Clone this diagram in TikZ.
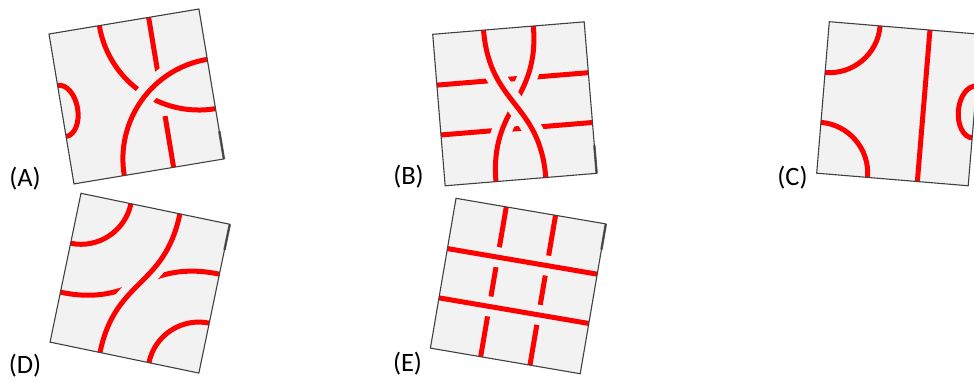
\documentclass[tikz,border=0pt]{standalone}
\usepackage{fontspec}
\setmainfont{Carlito}
\definecolor{tilegray}{RGB}{242,242,242}
\definecolor{edgegray}{RGB}{64,64,64}
\definecolor{knotred}{RGB}{255,0,0}
\begin{document}
\begin{tikzpicture}[x=1pt,y=1pt,
  tilefill/.style={fill=tilegray},
  tileedge/.style={draw=edgegray,line width=1.1pt},
  tileshade/.style={draw=edgegray!85,line width=2.4pt},
  strand/.style={draw=knotred,line width=5pt},
  over/.style={strand,preaction={draw=tilegray,line width=20pt}},
  lbl/.style={font=\fontsize{26.5}{32}\selectfont,inner sep=0pt,anchor=center}]
\useasboundingbox (0,0) rectangle (974,-381);

% ---------- Tile A ----------
\begin{scope}[shift={(49,-34)},rotate=9.46]
  \path[tilefill] (0,0) rectangle (152,-152);
  \begin{scope}
    \clip (0,0) rectangle (152,-152);
    \draw[strand] (0,-52) arc[start angle=90,end angle=-90,x radius=16,y radius=26];
    \draw[strand] (101,2) -- (101,-55);
    \draw[strand] (101,-100) -- (101,-154);
    \draw[over] (51,0) arc[start angle=180,end angle=270,radius=101];
    \draw[over] (51,-152) arc[start angle=180,end angle=90,radius=101];
  \end{scope}
  \draw[tileshade] (152,-124) -- (152,-152);
  \draw[tileedge] (0,0) rectangle (152,-152);
\end{scope}

% ---------- Tile B ----------
\begin{scope}[shift={(432.7,-34.3)},rotate=4.7]
  \path[tilefill] (0,0) rectangle (152,-152);
  \begin{scope}
    \clip (0,0) rectangle (152,-152);
    \draw[strand] (-2,-51) -- (154,-51);
    \draw[strand] (-2,-101) -- (154,-101);
    \draw[over] (101,2) -- (101,0) .. controls (101,-76) and (51,-76) .. (51,-152) -- (51,-154);
    \draw[over] (51,2) -- (51,0) .. controls (51,-76) and (101,-76) .. (101,-152) -- (101,-154);
  \end{scope}
  \draw[tileshade] (152,-124) -- (152,-152);
  \draw[tileedge] (0,0) rectangle (152,-152);
\end{scope}

% ---------- Tile C ----------
\begin{scope}[shift={(829.3,-21.7)},rotate=-4.75]
  \path[tilefill] (0,0) rectangle (152,-152);
  \begin{scope}
    \clip (0,0) rectangle (152,-152);
    \draw[strand] (51,0) arc[start angle=0,end angle=-90,radius=51];
    \draw[strand] (0,-101) arc[start angle=90,end angle=0,radius=51];
    \draw[strand] (101,2) -- (101,-154);
    \draw[strand] (152,-52) arc[start angle=90,end angle=270,x radius=16,y radius=26];
  \end{scope}
  \draw[tileedge] (0,0) rectangle (152,-152);
\end{scope}

% ---------- Tile D ----------
\begin{scope}[shift={(81,-193.3)},rotate=-11.75]
  \path[tilefill] (0,0) rectangle (152,-152);
  \begin{scope}
    \clip (0,0) rectangle (152,-152);
    \draw[strand] (51,0) arc[start angle=0,end angle=-90,radius=51];
    \draw[strand] (101,-152) arc[start angle=180,end angle=90,radius=51];
    \draw[strand] (-2,-101) -- (0,-101) .. controls (76,-101) and (76,-51) .. (152,-51) -- (154,-51);
    \draw[over] (101,2) -- (101,0) .. controls (101,-76) and (51,-76) .. (51,-152) -- (51,-154);
  \end{scope}
  \draw[tileshade] (152,0) -- (152,-26);
  \draw[tileedge] (0,0) rectangle (152,-152);
\end{scope}

% ---------- Tile E ----------
\begin{scope}[shift={(456,-198.3)},rotate=-9.7]
  \path[tilefill] (0,0) rectangle (152,-152);
  \begin{scope}
    \clip (0,0) rectangle (152,-152);
    \draw[strand] (51,2) -- (51,-154);
    \draw[strand] (101,2) -- (101,-154);
    \draw[over] (-2,-51) -- (154,-51);
    \draw[over] (-2,-101) -- (154,-101);
  \end{scope}
  \draw[tileshade] (152,0) -- (152,-26);
  \draw[tileedge] (0,0) rectangle (152,-152);
\end{scope}

% ---------- Labels ----------
\node[lbl] (labA) at (25,-179) {(A)};
\node[lbl] (labB) at (408.5,-177) {(B)};
\node[lbl] (labC) at (792.5,-178) {(C)};
\node[lbl] (labD) at (25,-366) {(D)};
\node[lbl] (labE) at (407.5,-364) {(E)};
\end{tikzpicture}
\end{document}
